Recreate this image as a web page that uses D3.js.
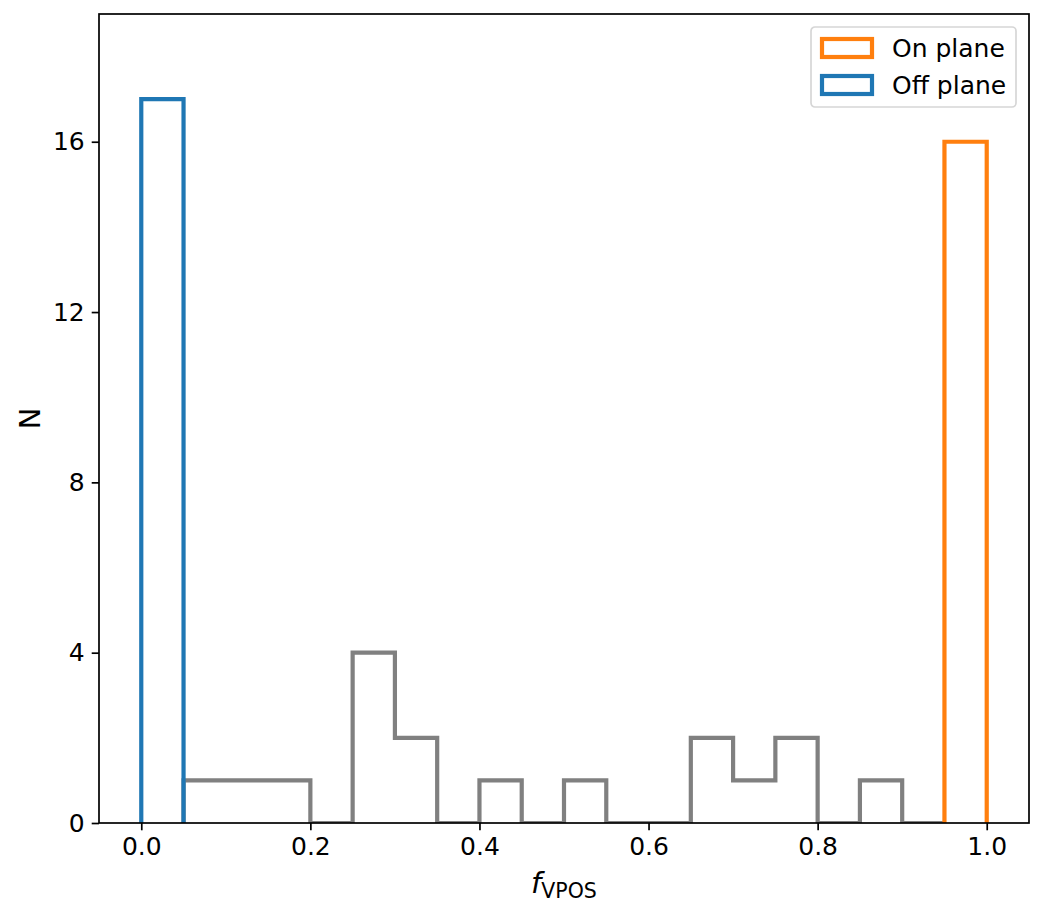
<!DOCTYPE html>
<html>
<head>
<meta charset="utf-8">
<script src="https://cdn.jsdelivr.net/npm/d3@7"></script>
<style>
  html, body { margin: 0; padding: 0; background: #fff; }
  svg { display: block; font-family: "DejaVu Sans", sans-serif; }
</style>
</head>
<body>
<div id="chart"></div>
<script>
// histogram data (bin width 0.05)
const binWidth = 0.05;
const grayStart = 0.05;
const grayCounts = [1, 1, 1, 0, 4, 2, 0, 1, 0, 1, 0, 0, 2, 1, 2, 0, 1, 0];
const offPlaneStart = 0.0;
const offPlaneCounts = [17];
const onPlaneStart = 0.95;
const onPlaneCounts = [16];

const xTicks = [0.0, 0.2, 0.4, 0.6, 0.8, 1.0];
const yTicks = [0, 4, 8, 12, 16];
const legendLabels = ["On plane", "Off plane"];

const W = 1043, H = 917;
const margin = { top: 14, right: 14, bottom: 94, left: 99 };
const width = W - margin.left - margin.right;
const height = H - margin.top - margin.bottom;

const colors = { gray: "#808080", blue: "#1f77b4", orange: "#ff7f0e" };

const svg = d3.select("#chart").append("svg")
    .attr("width", W)
    .attr("height", H);

const g = svg.append("g")
    .attr("transform", `translate(${margin.left},${margin.top})`);

const x = d3.scaleLinear().domain([-0.05, 1.05]).range([0, width]);
const y = d3.scaleLinear().domain([0, 19]).range([height, 0]);

g.append("clipPath").attr("id", "plotclip")
  .append("rect").attr("width", width).attr("height", height);

// step outline like histtype='step'
function stepPoints(start, counts) {
    const pts = [[start, 0]];
    counts.forEach((c, i) => {
        pts.push([start + i * binWidth, c]);
        pts.push([start + (i + 1) * binWidth, c]);
    });
    pts.push([start + counts.length * binWidth, 0]);
    return pts;
}

const line = d3.line().x(d => x(d[0])).y(d => y(d[1]));

const hists = [
    { start: grayStart, counts: grayCounts, color: colors.gray },
    { start: offPlaneStart, counts: offPlaneCounts, color: colors.blue },
    { start: onPlaneStart, counts: onPlaneCounts, color: colors.orange }
];

g.append("g").attr("clip-path", "url(#plotclip)")
  .selectAll("path")
  .data(hists)
  .enter()
  .append("path")
    .attr("d", d => line(stepPoints(d.start, d.counts)))
    .attr("fill", "none")
    .attr("stroke", d => d.color)
    .attr("stroke-width", 4.2)
    .attr("stroke-linejoin", "miter");

// axes
const xAxis = g.append("g")
    .attr("transform", `translate(0,${height})`)
    .call(d3.axisBottom(x).tickValues(xTicks).tickFormat(d3.format(".1f"))
        .tickSize(7.3).tickPadding(7));
const yAxis = g.append("g")
    .call(d3.axisLeft(y).tickValues(yTicks).tickFormat(d3.format("d"))
        .tickSize(7.3).tickPadding(7));

[xAxis, yAxis].forEach(a => {
    a.select(".domain").remove();
    a.selectAll(".tick line").attr("stroke", "#000").attr("stroke-width", 1.7);
    a.selectAll(".tick text").attr("fill", "#000")
        .style("font-size", "25px")
        .style("font-family", "DejaVu Sans");
});

// frame
g.append("rect")
    .attr("width", width)
    .attr("height", height)
    .attr("fill", "none")
    .attr("stroke", "#000")
    .attr("stroke-width", 1.7);

// axis labels
svg.append("text")
    .attr("transform", `translate(40,${margin.top + height / 2}) rotate(-90)`)
    .attr("text-anchor", "middle")
    .style("font-size", "29px")
    .text("N");

const xl = svg.append("text")
    .attr("x", margin.left + width / 2)
    .attr("y", 893)
    .attr("text-anchor", "middle")
    .style("font-size", "29px");
xl.append("tspan").style("font-style", "italic").text("f");
xl.append("tspan").attr("dy", 5).style("font-size", "20.5px").text("VPOS");

// legend
const leg = svg.append("g").attr("transform", "translate(811,27)");
leg.append("rect")
    .attr("width", 205)
    .attr("height", 80)
    .attr("rx", 4)
    .attr("fill", "#fff")
    .attr("fill-opacity", 0.8)
    .attr("stroke", "#d6d6d6")
    .attr("stroke-width", 1.7);

const legColors = [colors.orange, colors.blue];
const items = leg.selectAll("g.item")
    .data(legendLabels)
    .enter()
    .append("g")
    .attr("transform", (d, i) => `translate(0,${i * 37})`);
items.append("rect")
    .attr("x", 11)
    .attr("y", 12)
    .attr("width", 50)
    .attr("height", 18)
    .attr("fill", "none")
    .attr("stroke", (d, i) => legColors[i])
    .attr("stroke-width", 4.2);
items.append("text")
    .attr("x", 81)
    .attr("y", 30)
    .style("font-size", "25px")
    .text(d => d);
</script>
</body>
</html>
